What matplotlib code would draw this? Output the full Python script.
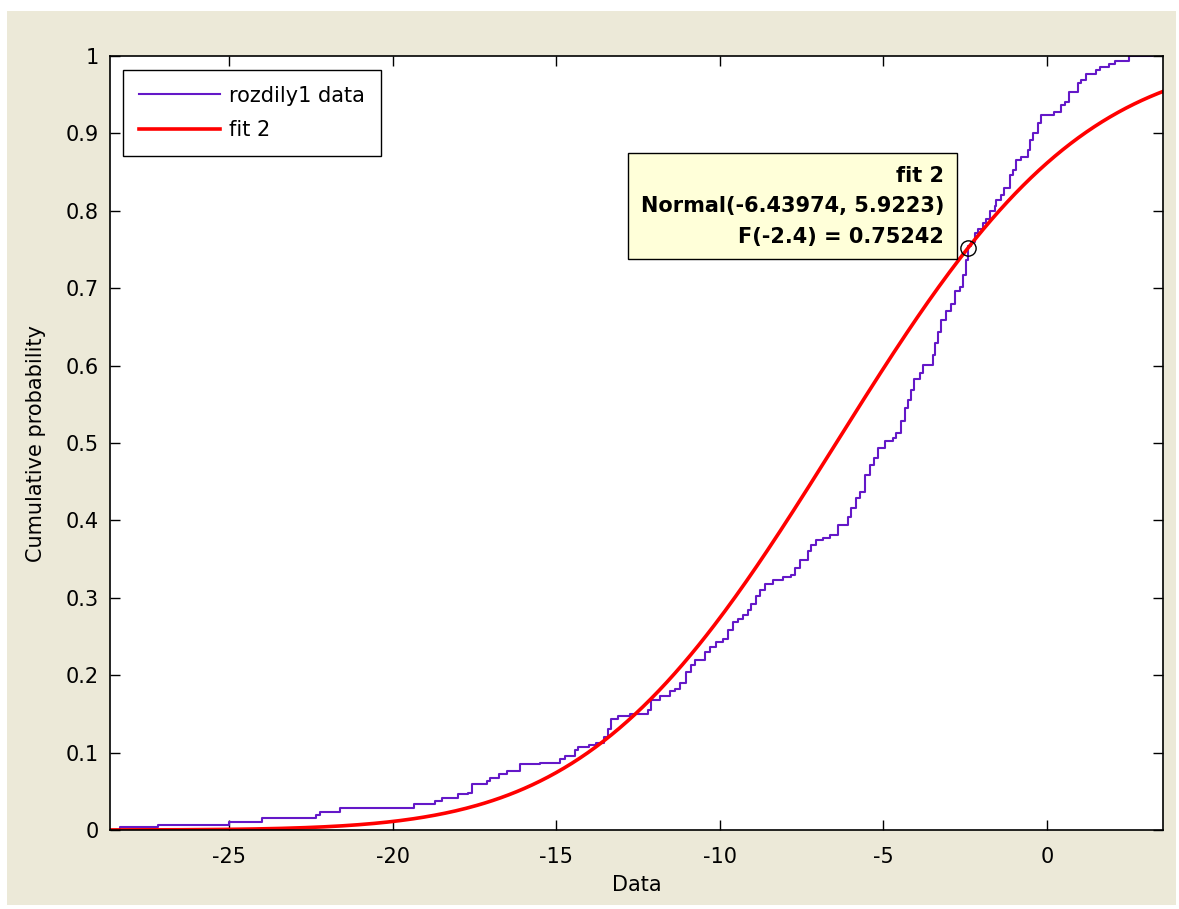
import math
import matplotlib
matplotlib.use('Agg')
import matplotlib.pyplot as plt
from matplotlib.patches import Rectangle
import numpy as np

# Empirical CDF of rozdily1: jump positions and the level reached after each jump
ecdf_x = [-28.33, -27.18, -24.99, -24.00, -22.33, -22.23, -21.61, -19.35, -18.70, -18.48,
          -18.00, -17.69, -17.58, -17.12, -17.02, -16.76, -16.49, -16.11, -15.49, -14.88,
          -14.74, -14.42, -14.32, -14.01, -13.78, -13.55, -13.42, -13.31, -13.11, -12.75,
          -12.19, -12.09, -11.84, -11.53, -11.38, -11.22, -11.02, -10.87, -10.77, -10.46,
          -10.31, -10.10, -9.90, -9.75, -9.60, -9.44, -9.29, -9.14, -9.03, -8.88,
          -8.78, -8.63, -8.37, -8.07, -7.81, -7.71, -7.56, -7.30, -7.20, -7.05,
          -6.85, -6.64, -6.39, -6.08, -5.98, -5.83, -5.72, -5.57, -5.42, -5.27,
          -5.17, -4.96, -4.71, -4.60, -4.45, -4.35, -4.25, -4.15, -4.05, -3.89,
          -3.79, -3.49, -3.43, -3.33, -3.23, -3.08, -2.92, -2.82, -2.67, -2.57,
          -2.47, -2.42, -2.31, -2.21, -2.11, -1.96, -1.85, -1.75, -1.60, -1.55,
          -1.40, -1.30, -1.14, -1.04, -0.94, -0.78, -0.58, -0.53, -0.43, -0.28,
          -0.17, 0.23, 0.44, 0.54, 0.69, 0.94, 1.05, 1.20, 1.51, 1.61,
          1.91, 2.07, 2.52]
ecdf_p = [0.0035, 0.007, 0.010, 0.016, 0.019, 0.023, 0.028, 0.033, 0.037, 0.041,
          0.046, 0.048, 0.059, 0.063, 0.067, 0.072, 0.076, 0.085, 0.087, 0.092,
          0.095, 0.103, 0.107, 0.110, 0.113, 0.120, 0.130, 0.143, 0.147, 0.150,
          0.155, 0.168, 0.173, 0.179, 0.182, 0.190, 0.204, 0.213, 0.220, 0.230,
          0.237, 0.243, 0.247, 0.258, 0.269, 0.272, 0.278, 0.284, 0.292, 0.302,
          0.310, 0.318, 0.323, 0.327, 0.330, 0.338, 0.349, 0.360, 0.368, 0.375,
          0.377, 0.381, 0.394, 0.405, 0.416, 0.429, 0.437, 0.459, 0.472, 0.480,
          0.493, 0.502, 0.506, 0.513, 0.528, 0.545, 0.555, 0.569, 0.583, 0.591,
          0.601, 0.614, 0.629, 0.644, 0.659, 0.670, 0.680, 0.696, 0.702, 0.717,
          0.736, 0.754, 0.760, 0.771, 0.777, 0.784, 0.790, 0.800, 0.806, 0.814,
          0.820, 0.829, 0.846, 0.853, 0.866, 0.869, 0.879, 0.891, 0.900, 0.913,
          0.924, 0.928, 0.937, 0.941, 0.954, 0.965, 0.969, 0.977, 0.982, 0.986,
          0.990, 0.993, 1.000]
data_min = -28.64
data_max = 3.20

# Fitted normal distribution ("fit 2") and the data tip on it
mu = -6.43974
sigma = 5.9223
tip_x = -2.4
tip_p = 0.75242

x_ticks = [-25, -20, -15, -10, -5, 0]
y_ticks = [0, 0.1, 0.2, 0.3, 0.4, 0.5, 0.6, 0.7, 0.8, 0.9, 1]

plt.rcParams['font.family'] = ['DejaVu Sans']
plt.rcParams['font.size'] = 15
plt.rcParams['axes.unicode_minus'] = False

fig = plt.figure(figsize=(11.79, 9.09), dpi=100, facecolor='white')
# grey-beige window background
fig.add_artist(Rectangle((0.006, 0.004), 0.9915, 0.984, transform=fig.transFigure,
                         facecolor='#ECE9D8', edgecolor='none', zorder=0))

ax = fig.add_axes([0.0933, 0.0869, 0.8931, 0.8515])
ax.set_facecolor('white')

# ECDF as stairs
xs = [data_min] + ecdf_x + [data_max]
ps = [0] + ecdf_p + [ecdf_p[-1]]
ax.plot(xs, ps, drawstyle='steps-post', color='#6418C8', lw=1.5, label='rozdily1 data')

# normal CDF from the fitted parameters
x_fit = np.linspace(data_min, 3.55, 400)
p_fit = [0.5 * (1 + math.erf((v - mu) / (sigma * math.sqrt(2)))) for v in x_fit]
ax.plot(x_fit, p_fit, color='red', lw=2.6, label='fit 2')

# data tip
ax.plot([tip_x], [tip_p], marker='o', markersize=11, markerfacecolor='none',
        markeredgecolor='black', markeredgewidth=1.0)
tip_text = f"fit 2\nNormal({mu:g}, {sigma:g})\nF({tip_x:g}) = {tip_p:g}"
ax.annotate(tip_text, xy=(tip_x, tip_p), xytext=(-24, 1), textcoords='offset pixels',
            ha='right', va='bottom', multialignment='right', fontweight='bold',
            linespacing=1.65,
            bbox=dict(boxstyle='square,pad=0.6', facecolor='#FFFFD9', edgecolor='black', lw=1))

ax.set_xlim(-28.64, 3.55)
ax.set_ylim(0, 1)
ax.set_xticks(x_ticks)
ax.set_yticks(y_ticks)
ax.set_yticklabels([f"{v:g}" for v in y_ticks])
ax.tick_params(direction='in', length=7, width=1, top=True, right=True,
               labelsize=15, colors='black')
ax.tick_params(axis='x', pad=12)
ax.tick_params(axis='y', pad=8)
for s in ax.spines.values():
    s.set_linewidth(1.2)
    s.set_color('black')

ax.set_xlabel('Data', labelpad=6)
ax.set_ylabel('Cumulative probability', labelpad=14)

leg = ax.legend(loc='upper left', bbox_to_anchor=(0.0123, 0.982), borderaxespad=0,
                fancybox=False, edgecolor='black', framealpha=1, handlelength=3.9,
                handletextpad=0.45, borderpad=0.75, labelspacing=0.7)
leg.get_frame().set_linewidth(1.0)

fig.savefig('out.png', dpi=100)
